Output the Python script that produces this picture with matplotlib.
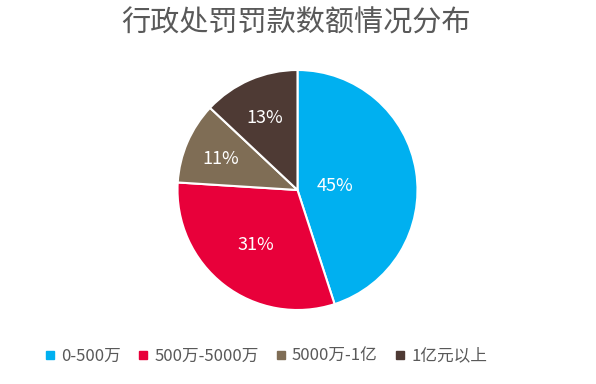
import numpy as np
import matplotlib.pyplot as plt
from matplotlib.lines import Line2D

plt.rcParams['font.family'] = ['Noto Sans CJK SC', 'DejaVu Sans']

# data
categories = ['0-500万', '500万-5000万', '5000万-1亿', '1亿元以上']
shares = [45, 31, 11, 13]
colors = ['#00B0F0', '#E8003A', '#7F6D55', '#4E3A34']
label_dist = [0.32, 0.56, 0.70, 0.68]

fig = plt.figure(figsize=(5.96, 3.84), dpi=100)
W, H = 596, 384
cx, cy, r = 297.5, 190, 120
ax = fig.add_axes([(cx - r) / W, (H - cy - r) / H, 2 * r / W, 2 * r / H])

wedges, _ = ax.pie(shares, colors=colors, startangle=90, counterclock=False,
                   radius=1, wedgeprops=dict(edgecolor='white', linewidth=1.5))
ax.set_xlim(-1, 1)
ax.set_ylim(-1, 1)
ax.set_aspect('equal')
ax.axis('off')

# percentage labels
for w, s, d in zip(wedges, shares, label_dist):
    ang = np.deg2rad((w.theta1 + w.theta2) / 2)
    ax.text(d * np.cos(ang), d * np.sin(ang) - 0.02, f'{s}%', color='white',
            fontsize=13, ha='center', va='center')

fig.text(0.497, 1 - 24 / H, '行政处罚罚款数额情况分布', ha='center', va='center',
         fontsize=21, color='#595959')

handles = [Line2D([], [], marker='s', linestyle='none', markersize=6,
                  markerfacecolor=c, markeredgecolor=c) for c in colors]
fig.legend(handles, categories, loc='center left', bbox_to_anchor=(27 / W, 1 - 356 / H),
           ncol=4, frameon=False, fontsize=12, labelcolor='#595959',
           handletextpad=0.15, columnspacing=0.85, handlelength=1.0)

fig.savefig('out.png', dpi=100, facecolor='white')
